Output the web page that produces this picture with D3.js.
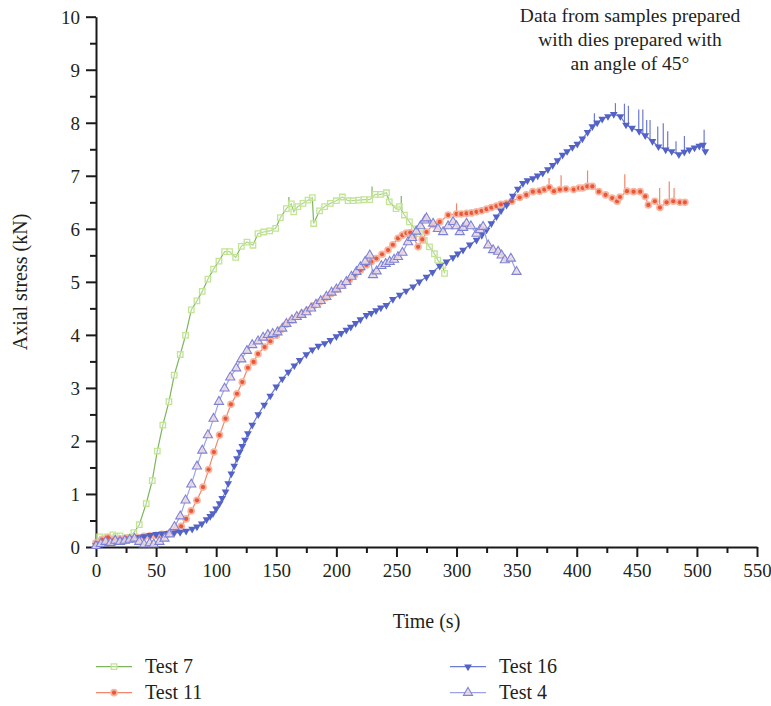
<!DOCTYPE html>
<html><head><meta charset="utf-8">
<script src="https://cdn.jsdelivr.net/npm/d3@7"></script>
<style>
html,body{margin:0;padding:0;background:#fff;}
text{font-family:"Liberation Serif","DejaVu Serif",serif;fill:#231f20;}
</style></head>
<body><svg id="chart" width="771" height="706"></svg>
<script>
// ---- data (time s, axial stress kN) ----
const seriesNames = ["Test 7","Test 11","Test 16","Test 4"];
const xTicks = [0,50,100,150,200,250,300,350,400,450,500,550];
const yTicks = [0,1,2,3,4,5,6,7,8,9,10];
const titleLines = ["Data from samples prepared","with dies prepared with","an angle of 45°"];

const test7 = [[0,0.05],[3,0.19],[6,0.15],[9,0.19],[12,0.17],[14,0.23],[17,0.2],[20,0.21],[24,0.16],[28,0.18],[31.5,0.27],[36,0.42],[41.8,0.82],[46.8,1.25],[51,1.81],[55.6,2.3],[60.7,2.74],[65.1,3.24],[70.1,3.63],[74.5,3.99],[79.3,4.47],[84,4.64],[88.4,4.82],[93.1,5.05],[97.8,5.24],[102.3,5.39],[107,5.57],[111.2,5.57],[116.2,5.46],[120.9,5.67],[125.6,5.75],[130.6,5.69],[134.8,5.91],[139.5,5.94],[144.5,5.96],[149.5,6.01],[153.4,6.21],[158.4,6.38],[162.5,6.47],[164.5,6.32],[168,6.42],[172.2,6.48],[176.4,6.54],[180,6.59],[181.1,6.1],[186,6.34],[190.3,6.42],[195,6.48],[200,6.53],[205,6.6],[209.7,6.53],[213.9,6.53],[218.6,6.54],[223,6.55],[227.8,6.55],[232.5,6.65],[236.7,6.65],[241.7,6.68],[244,6.51],[249.7,6.38],[252.5,6.42],[256.6,6.26],[260.8,6.13],[265,6.0],[269,5.91],[273.2,5.78],[277.5,5.66],[281.6,5.53],[284.4,5.41],[288.5,5.31],[290,5.16]];
const test7Spikes = [[160.5,6.6],[229.7,6.8],[254,6.62]];

const test11 = [[0,0.08],[5,0.14],[10,0.18],[15,0.14],[20,0.15],[25,0.17],[30,0.16],[35,0.18],[40,0.2],[45,0.21],[50,0.22],[55,0.24],[60,0.25],[64,0.27],[67.5,0.32],[70.9,0.39],[75,0.53],[79.2,0.68],[84,0.88],[89,1.13],[93.7,1.46],[98.1,1.79],[102.8,2.11],[107.8,2.42],[112.3,2.69],[117.3,2.89],[121.7,3.11],[126.4,3.38],[131.1,3.49],[134.8,3.64],[140.3,3.77],[145,3.88],[150,3.99],[154,4.1],[158.4,4.2],[163,4.28],[167.9,4.35],[172,4.41],[176.4,4.47],[181,4.55],[186,4.62],[191,4.7],[195.8,4.78],[200.5,4.86],[205.5,4.94],[210.5,5.03],[215.3,5.13],[220,5.22],[225,5.32],[229,5.38],[233.3,5.44],[238,5.52],[243,5.6],[247,5.7],[251.3,5.82],[255,5.88],[258.3,5.92],[261.5,5.93],[264,5.85],[268,5.66],[271.5,5.8],[275,5.94],[280.5,6.08],[286,6.13],[293,6.26],[300,6.28],[304,6.28],[308.3,6.29],[312.5,6.3],[316.6,6.32],[320.8,6.34],[325,6.37],[329,6.4],[333.2,6.43],[337,6.46],[341.6,6.48],[346,6.52],[352.5,6.59],[358,6.64],[363.5,6.7],[369,6.71],[373,6.74],[377.2,6.78],[381,6.71],[386,6.74],[391,6.75],[397.5,6.74],[402,6.77],[405,6.77],[408.8,6.8],[413,6.8],[418.4,6.7],[424,6.64],[429.5,6.58],[433.6,6.52],[436,6.6],[441.8,6.71],[447.3,6.7],[452.8,6.7],[457,6.61],[459.6,6.45],[465,6.52],[469.2,6.4],[474.8,6.5],[480.3,6.52],[485.8,6.5],[490,6.5]];
const test11Spikes = [[300,6.48],[377,6.96],[387,7.01],[409,7.1],[440,7.03],[469,6.77],[477,6.89],[481,6.77]];

const test16 = [[0,0.03],[5,0.06],[10,0.08],[15,0.1],[20,0.12],[25,0.13],[30,0.16],[35,0.18],[40,0.2],[45,0.22],[50,0.24],[55,0.25],[60,0.26],[65,0.27],[70,0.28],[75,0.3],[80,0.34],[84,0.38],[88,0.44],[92,0.52],[95,0.58],[97.3,0.63],[100,0.72],[102.8,0.82],[105,0.92],[107.8,1.04],[110,1.2],[112.6,1.38],[115,1.53],[117.3,1.67],[119.5,1.79],[121.7,1.9],[124,2.02],[126.4,2.14],[130,2.3],[135,2.5],[140,2.68],[145,2.85],[150,3.02],[155,3.17],[160,3.3],[165,3.42],[169.5,3.52],[175,3.63],[180,3.72],[185,3.79],[190.3,3.84],[195,3.9],[200,3.97],[204,4.03],[208.3,4.09],[212,4.15],[216,4.22],[220,4.29],[225,4.37],[229,4.41],[233,4.46],[237,4.51],[241.6,4.56],[247,4.67],[252.7,4.75],[258,4.83],[263.8,4.91],[269,5.0],[275,5.09],[280,5.18],[286,5.3],[291.6,5.38],[297,5.46],[301,5.53],[305.4,5.6],[311,5.7],[316.6,5.79],[321,5.88],[325,5.98],[329,6.1],[333.2,6.23],[337,6.34],[341.6,6.45],[346.8,6.62],[351,6.75],[355.2,6.86],[359,6.91],[363.5,6.95],[367.5,7.0],[371.7,7.05],[376,7.12],[380,7.2],[384,7.29],[388.2,7.39],[392,7.46],[396.4,7.54],[400.5,7.6],[404.7,7.7],[409,7.82],[413,7.93],[417,8.0],[421.2,8.07],[426,8.12],[430.8,8.16],[436.3,8.12],[441,7.96],[446,7.9],[452,7.84],[457,7.76],[463,7.65],[468,7.55],[474,7.49],[479,7.46],[485,7.4],[489.5,7.45],[493.7,7.49],[498,7.53],[502,7.56],[505,7.58],[507,7.46]];
const test16Spikes = [[409,7.85],[414.7,8.18],[432.2,8.37],[439.7,8.36],[443,8.32],[451.6,8.25],[455,8.25],[458.2,8.05],[461,8.05],[467.4,7.93],[472,7.99],[475.7,7.84],[482.6,7.65],[489.6,7.75],[506,7.87]];

const test4 = [[0,0.02],[4,0.06],[8,0.1],[12,0.08],[16,0.12],[20,0.1],[24,0.12],[28,0.14],[32,0.16],[36,0.1],[40,0.05],[44.6,0.07],[48,0.05],[52.8,0.1],[57,0.16],[61,0.24],[65.3,0.38],[70.1,0.58],[74.5,0.88],[79.3,1.18],[84,1.52],[88.4,1.82],[93.1,2.11],[97.8,2.42],[102.3,2.74],[107,2.99],[111.7,3.2],[116.7,3.37],[120.9,3.54],[125.6,3.7],[130,3.81],[134.8,3.88],[139,3.95],[143,4.0],[147,4.02],[151,4.05],[155,4.12],[158.4,4.21],[163,4.28],[167,4.34],[171,4.38],[175,4.43],[179,4.5],[183,4.57],[187,4.64],[191.7,4.72],[196,4.8],[200,4.86],[204,4.93],[208.3,5.0],[212.5,5.1],[216.7,5.19],[220,5.28],[224,5.38],[227.8,5.5],[230.5,5.13],[233.5,5.2],[237.5,5.3],[241,5.34],[244.4,5.38],[248,5.42],[251.3,5.47],[255,5.55],[259.6,5.75],[263,5.83],[266.5,5.95],[270,6.05],[273.5,6.16],[275,6.2],[280.5,6.1],[284.5,6.0],[288.8,5.94],[293,6.05],[297.1,6.13],[300,6.05],[302.7,5.94],[305.5,6.02],[308.3,6.1],[312,6.05],[316.6,5.91],[319.5,5.98],[322.1,6.04],[326.3,5.69],[330.4,5.6],[334.6,5.57],[337.5,5.5],[340.2,5.41],[345.2,5.44],[349.9,5.19]];
const test4Spikes = [];

// ---- styles ----
const styles = {
  "Test 7":  {line:"#7db55d", sym:d3.symbolSquare, size:30, fill:"rgba(255,255,255,0.4)", stroke:"#c2e592", sw:1.3, inner:null},
  "Test 11": {line:"#f3866a", sym:d3.symbolCircle, size:46, fill:"#f6b59f", stroke:"none", sw:0, inner:"#ea5637"},
  "Test 16": {line:"#6c79d6", sym:d3.symbolTriangle, size:26, fill:"#5262c7", stroke:"none", sw:0, inner:null, rot:180},
  "Test 4":  {line:"#9ca2ea", sym:d3.symbolTriangle, size:36, fill:"rgba(236,214,222,0.85)", stroke:"#7c83d6", sw:1.1, inner:null}
};
const allData = {"Test 7":test7,"Test 11":test11,"Test 16":test16,"Test 4":test4};
const allSpikes = {"Test 7":test7Spikes,"Test 11":test11Spikes,"Test 16":test16Spikes,"Test 4":test4Spikes};

const svg = d3.select("#chart");
const x = d3.scaleLinear().domain([0,550]).range([96,757]);
const y = d3.scaleLinear().domain([0,10]).range([547,16.7]);

// axes
const axisColor = "#1a1a1a";
const gx = svg.append("g").attr("transform",`translate(0,${y(0)})`)
  .call(d3.axisBottom(x).tickValues(xTicks).tickSize(10).tickSizeOuter(0).tickFormat(d3.format("d")));
const gxm = svg.append("g").attr("transform",`translate(0,${y(0)})`)
  .call(d3.axisBottom(x).tickValues(d3.range(25,550,50)).tickSize(6).tickFormat(""));
const gy = svg.append("g").attr("transform",`translate(${x(0)},0)`)
  .call(d3.axisLeft(y).tickValues(yTicks).tickSize(10).tickSizeOuter(0).tickFormat(d3.format("d")));
const gym = svg.append("g").attr("transform",`translate(${x(0)},0)`)
  .call(d3.axisLeft(y).tickValues(d3.range(0.5,10,1)).tickSize(6).tickFormat(""));
[gx,gxm,gy,gym].forEach(g=>{
  g.selectAll("path.domain").attr("stroke",axisColor).attr("stroke-width",2);
  g.selectAll(".tick line").attr("stroke",axisColor).attr("stroke-width",2);
  g.selectAll(".tick text").attr("font-family","Liberation Serif").attr("font-size",19).attr("fill","#231f20");
});
gxm.select("path.domain").remove();
gym.select("path.domain").remove();
gx.selectAll(".tick text").attr("dy","1.0em").attr("y",11);
gy.selectAll(".tick text").attr("x",-16).attr("dy","0.34em");

// axis titles
svg.append("text").attr("x",426.5).attr("y",628).attr("text-anchor","middle").attr("font-size",20).text("Time (s)");
svg.append("text").attr("transform","translate(27,282) rotate(-90)").attr("text-anchor","middle").attr("font-size",20).text("Axial stress (kN)");

// title
svg.append("g").selectAll("text").data(titleLines).join("text")
  .attr("x",630).attr("y",(d,i)=>22+i*24).attr("text-anchor","middle").attr("font-size",19.5).text(d=>d);

// series
const line = d3.line().x(d=>x(d[0])).y(d=>y(d[1]));
const bis = d3.bisector(d=>d[0]).left;
function valueAt(data,t){
  const i = Math.max(1,Math.min(data.length-1,bis(data,t)));
  const a=data[i-1], b=data[i];
  const f=(t-a[0])/(b[0]-a[0]||1);
  return a[1]+(b[1]-a[1])*Math.max(0,Math.min(1,f));
}
function drawMarker(g,st,px,py){
  const s = d3.symbol().type(st.sym).size(st.size);
  g.append("path").attr("d",s()).attr("transform",`translate(${px},${py})${st.rot?` rotate(${st.rot})`:""}`)
    .attr("fill",st.fill).attr("stroke",st.stroke).attr("stroke-width",st.sw);
  if(st.inner) g.append("circle").attr("cx",px).attr("cy",py).attr("r",2.1).attr("fill",st.inner);
}
seriesNames.forEach(name=>{
  const st = styles[name], data = allData[name];
  const g = svg.append("g");
  g.append("path").datum(data).attr("d",line).attr("fill","none").attr("stroke",st.line).attr("stroke-width",1.2);
  g.selectAll("line.spike").data(allSpikes[name]).join("line")
    .attr("x1",d=>x(d[0])).attr("x2",d=>x(d[0]))
    .attr("y1",d=>y(valueAt(data,d[0]))).attr("y2",d=>y(d[1]))
    .attr("stroke",st.line).attr("stroke-width",1.2);
  data.forEach(d=>drawMarker(g,st,x(d[0]),y(d[1])));
});

// legend
const legendPos = {"Test 7":[96,666.7],"Test 11":[96,692.7],"Test 16":[450,666.7],"Test 4":[450,692.7]};
seriesNames.forEach(name=>{
  const st = styles[name]; const [lx,ly] = legendPos[name];
  const g = svg.append("g");
  g.append("line").attr("x1",lx).attr("x2",lx+36).attr("y1",ly).attr("y2",ly).attr("stroke",st.line).attr("stroke-width",1.2);
  drawMarker(g,st,lx+18,ly);
  g.append("text").attr("x",lx+49).attr("y",ly+6).attr("font-size",20).text(name);
});
</script></body></html>
